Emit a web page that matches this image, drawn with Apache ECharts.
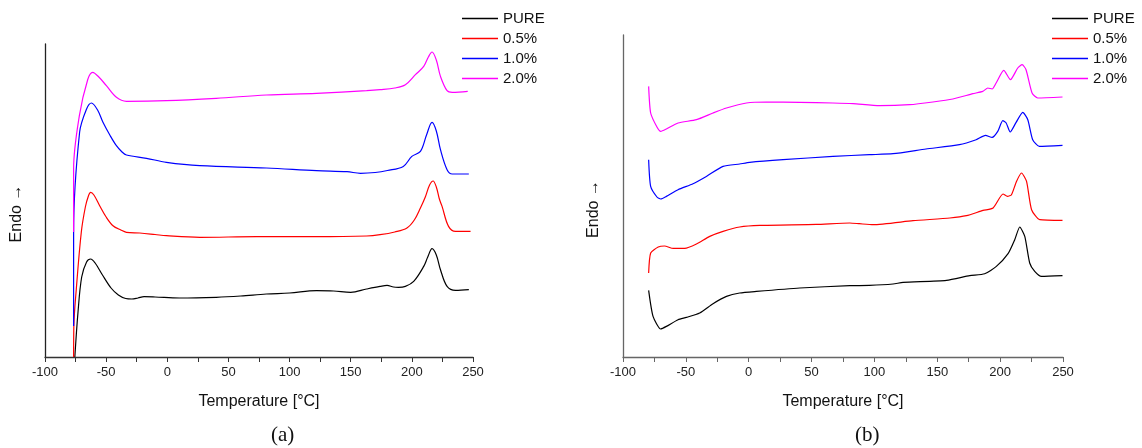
<!DOCTYPE html>
<html lang="en">
<head>
  <meta charset="UTF-8">
  <title>DSC curves (a) (b)</title>
  <style>
    html, body { margin: 0; padding: 0; background: #fff; }
    #chart { width: 1142px; height: 448px; }
  </style>
</head>
<body>
  <div id="chart"></div>

  <script src="https://cdn.jsdelivr.net/npm/echarts@6/dist/echarts.min.js"></script>
  <script>
    // series names + colours
    var names = ['PURE', '0.5%', '1.0%', '2.0%'];
    var colors = ['#000000', '#ff0000', '#0000ff', '#ff00ff'];
    var xTicks = { min: -100, max: 250, step: 50 };

    // panel (a): [temperature, heat flow (arb. units, offset)]
    var a_pure = [[-75.6, 0], [-73, 45], [-70, 80], [-66, 95], [-62.7, 98], [-59, 94], [-53, 82], [-46, 69], [-40, 62], [-34, 58.5], [-29, 58], [-24, 59], [-19, 60.3], [-10, 60], [10, 59], [40, 59.7], [60, 61], [81, 63], [100, 64], [122, 66.3], [136, 66], [150, 64.7], [163, 68], [174, 70.6], [179.7, 71.6], [185, 70], [189, 69.7], [194.7, 70.6], [201.5, 75.6], [209.7, 90.6], [213, 100], [216.5, 108.3], [220, 102], [223.4, 87.3], [228.8, 70.6], [235.7, 66.6], [246.6, 67.3]];
    var a_05 = [[-76.6, 0], [-76.4, 31], [-74.4, 68], [-70.3, 125], [-67, 150], [-64.5, 161], [-62.7, 164.7], [-60, 162], [-55.3, 151.3], [-50, 140], [-44.4, 131.3], [-38, 127], [-33.4, 124.7], [-22.5, 124], [-10, 122.5], [-0.7, 121.3], [26.6, 119.7], [73, 120.3], [122, 120.3], [163, 121], [174, 122.3], [186, 125], [196, 129], [202, 137], [207, 149], [211, 160], [214.5, 172], [217.4, 176], [220, 170], [222.5, 158], [224.7, 150.6], [230, 130.6], [235.7, 125.6], [248, 125.6]];
    var a_10 = [[-76.6, 31], [-76.6, 125], [-71.7, 224.7], [-66, 248], [-62, 254], [-57, 247], [-52.6, 234.7], [-47, 222], [-41.6, 211.3], [-37, 205], [-33.4, 202], [-17, 198.7], [-0.7, 194.7], [26.6, 191.3], [81, 189], [122, 186.3], [147, 185.3], [158, 183.7], [170, 184.5], [180, 186.5], [193, 190.6], [200, 200.6], [207, 205.6], [212, 222], [216.5, 234.6], [220, 226], [223.4, 207.3], [228.8, 187.3], [233, 183], [246.6, 183]];
    var a_20 = [[-76.6, 125], [-76.6, 188], [-71.9, 241.3], [-65.1, 277.3], [-61, 284.7], [-56, 280], [-49.8, 271.3], [-41.6, 259.7], [-33.4, 255.7], [-0.7, 256.3], [40, 258.7], [81, 262], [122, 263.7], [163, 266.3], [174, 267.3], [186, 269], [194.7, 272.3], [202.9, 282.3], [209.7, 290.6], [213.5, 300], [216.5, 305], [220, 297], [223.4, 280.6], [228.8, 266.3], [233, 264.6], [245.7, 265.6]];

    // panel (b)
    var b_pure = [[-79.6, 66.6], [-76.1, 40.6], [-70, 28], [-65.5, 30.6], [-56.2, 37.3], [-49.6, 39.6], [-39, 44], [-28.4, 53.3], [-17.7, 60.6], [-7.2, 64], [6.1, 65.6], [40.6, 69], [80.4, 71.3], [96, 71.6], [114.8, 73], [122.8, 74.6], [157.3, 76.6], [175.8, 81.3], [187.7, 83.3], [197, 90.6], [206.3, 103.3], [211.6, 117.3], [215.6, 130], [219.6, 120.6], [223.5, 94], [227.5, 85.6], [232.9, 80.6], [249.6, 81.3]];
    var b_05 = [[-79.6, 84], [-78, 104], [-72, 110], [-67, 111], [-60, 108.6], [-50.9, 108.6], [-41.6, 113], [-31, 120.6], [-20.4, 125.6], [-7.2, 130], [8.8, 131.6], [53.8, 132.6], [80.4, 134], [88, 133.3], [99, 132.3], [130.7, 136.3], [160, 139], [173.2, 141.3], [186.4, 146.6], [194.4, 149], [202.3, 163], [205.8, 160.6], [209, 162.3], [213, 175.6], [217, 184], [221, 175.6], [225, 147.3], [231.5, 137.3], [249.6, 136.6]];
    var b_10 = [[-79.6, 197.3], [-78, 170.6], [-73, 160], [-70, 158], [-65.5, 160.6], [-56.2, 167.3], [-44.3, 173.3], [-33.7, 180.6], [-20.4, 190.6], [-7.2, 193], [0.8, 194.6], [27.3, 197.3], [67, 200.6], [96, 202.3], [114.8, 203.3], [141, 208], [167.6, 212.3], [180.9, 217.3], [188.3, 221.6], [193.6, 219.6], [198.1, 225.6], [202.1, 236.3], [204.8, 234], [208, 225], [212.7, 234.6], [218, 244.6], [222, 237.3], [225.9, 217.3], [231.2, 210.6], [249.6, 211.6]];
    var b_20 = [[-79.6, 270.6], [-78, 244], [-73, 230], [-70, 225.6], [-65.5, 228], [-56.2, 234], [-41.6, 237.3], [-28.4, 244], [-17.7, 249], [-1.8, 254], [14, 255], [40.6, 254.6], [67, 254], [83, 253.3], [104, 251.3], [128, 252.3], [146.5, 255], [162.4, 258], [178.3, 263.3], [186.2, 265.6], [190.2, 269], [193.6, 268], [196.8, 274], [202.9, 286.6], [208.2, 277.3], [214, 289], [217.5, 292.3], [220.6, 287.3], [225.4, 264], [229.9, 259], [249.6, 260]];

    var panelA = [a_pure, a_05, a_10, a_20];
    var panelB = [b_pure, b_05, b_10, b_20];

    var chart = echarts.init(document.getElementById('chart'));

    function xAxisFor(gridIndex, lineColor) {
      return {
        type: 'value', gridIndex: gridIndex,
        min: xTicks.min, max: xTicks.max, interval: xTicks.step,
        name: 'Temperature [°C]', nameLocation: 'middle', nameGap: 37,
        nameTextStyle: { fontFamily: 'Liberation Sans', fontSize: 16, color: '#111' },
        axisLine: { show: true, onZero: false, lineStyle: { color: lineColor, width: 1.3 } },
        axisTick: { show: true, inside: false, length: 5, lineStyle: { color: lineColor } },
        minorTick: { show: true, splitNumber: 2, length: 5, lineStyle: { color: lineColor } },
        axisLabel: { fontFamily: 'Liberation Sans', fontSize: 13, color: '#222', margin: 9 },
        splitLine: { show: false }
      };
    }

    function yAxisFor(gridIndex, max, lineColor, gap) {
      return {
        type: 'value', gridIndex: gridIndex, min: 0, max: max,
        name: 'Endo →', nameLocation: 'middle', nameGap: gap,
        nameTextStyle: { fontFamily: 'Liberation Sans', fontSize: 16, color: '#111', padding: [0, 26, 0, 0] },
        axisLine: { show: true, onZero: false, lineStyle: { color: lineColor, width: 1.3 } },
        axisTick: { show: false }, axisLabel: { show: false }, splitLine: { show: false }
      };
    }

    var series = [];
    names.forEach(function (n, i) {
      series.push({
        name: n, type: 'line', xAxisIndex: 0, yAxisIndex: 0,
        data: panelA[i], symbol: 'none', smooth: 0.35,
        lineStyle: { color: colors[i], width: 1.2 }, itemStyle: { color: colors[i] }
      });
    });
    names.forEach(function (n, i) {
      series.push({
        name: n, type: 'line', xAxisIndex: 1, yAxisIndex: 1,
        data: panelB[i], symbol: 'none', smooth: 0.2,
        lineStyle: { color: colors[i], width: 1.2 }, itemStyle: { color: colors[i] }
      });
    });

    var legendBase = {
      orient: 'vertical', icon: 'rect', itemWidth: 36, itemHeight: 1.5, itemGap: 5,
      padding: 0,
      textStyle: { fontFamily: 'Liberation Sans', fontSize: 15, color: '#111', lineHeight: 14 },
      data: names
    };

    chart.setOption({
      animation: false,
      backgroundColor: '#fff',
      grid: [
        { left: 45, right: 669, top: 44, bottom: 91 },
        { left: 623, right: 79, top: 35, bottom: 91 }
      ],
      xAxis: [xAxisFor(0, '#333'), xAxisFor(1, '#666')],
      yAxis: [yAxisFor(0, 313, '#222', 20), yAxisFor(1, 322, '#666', 21)],
      legend: [
        Object.assign({ left: 462, top: 11 }, legendBase),
        Object.assign({ left: 1052, top: 11 }, legendBase)
      ],
      graphic: [
        { type: 'text', left: 271, top: 425, style: { text: '(a)', font: '21px "Liberation Serif"', fill: '#111' } },
        { type: 'text', left: 855, top: 425, style: { text: '(b)', font: '21px "Liberation Serif"', fill: '#111' } }
      ],
      series: series
    });
  </script>
</body>
</html>
